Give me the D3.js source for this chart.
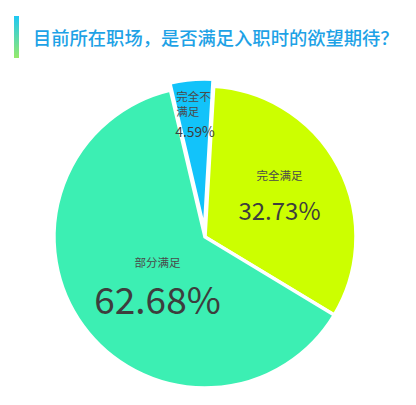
<!DOCTYPE html>
<html>
<head>
<meta charset="utf-8">
<script src="https://cdn.jsdelivr.net/npm/d3@7"></script>
<style>
  html, body { margin: 0; padding: 0; background: #fff; }
  svg { display: block; font-family: "Noto Sans CJK SC", "Noto Sans", sans-serif; }
</style>
</head>
<body>
<svg id="chart" width="416" height="405"></svg>
<script>
const title = "目前所在职场，是否满足入职时的欲望期待？";
const categories = ["完全满足", "部分满足", "完全不满足"];
const nameLines = [["完全满足"], ["部分满足"], ["完全不", "满足"]];
const values = [32.73, 62.68, 4.59];
const valueLabels = ["32.73%", "62.68%", "4.59%"];
const colors = ["#ccff00", "#3cefb3", "#12c3fa"];

const W = 416, H = 405;
const cx = 205, cy = 237, R = 151;
const svg = d3.select("#chart");

// title bar
const defs = svg.append("defs");
const grad = defs.append("linearGradient").attr("id", "bar").attr("x1", 0).attr("y1", 0).attr("x2", 0).attr("y2", 1);
grad.append("stop").attr("offset", "0%").attr("stop-color", "#1ec8f5");
grad.append("stop").attr("offset", "100%").attr("stop-color", "#96ea6a");
svg.append("rect").attr("x", 14).attr("y", 16).attr("width", 5).attr("height", 42).attr("fill", "url(#bar)");
svg.append("text").attr("x", 33).attr("y", 37).attr("dominant-baseline", "central")
  .attr("font-size", 18.3).attr("font-weight", 500).attr("fill", "#1ea2e6").text(title);

const start = 3.3 * Math.PI / 180;
const pie = d3.pie().sort(null).startAngle(start).endAngle(start + 2 * Math.PI);
const arcs = pie(values);
const arc = d3.arc().innerRadius(0).outerRadius(R);
const explode = [0, 0, 7];

const g = svg.append("g").attr("transform", `translate(${cx},${cy})`);
g.selectAll("path").data(arcs).join("path")
  .attr("d", arc)
  .attr("fill", (d, i) => colors[i])
  .attr("stroke", "#fff").attr("stroke-width", 3.5).attr("stroke-linejoin", "miter")
  .attr("transform", (d, i) => {
    const a = (d.startAngle + d.endAngle) / 2;
    return `translate(${explode[i] * Math.sin(a)},${-explode[i] * Math.cos(a)})`;
  });

// labels
const labelK = [0.58, 0.43, 0.82];
const nudge = [[-3, -4], [5, 5], [-2, 0]];
arcs.forEach((d, i) => {
  const la = d3.arc().innerRadius(R * labelK[i]).outerRadius(R * labelK[i]);
  const c = la.centroid(d);
  const x = c[0] + nudge[i][0], y = c[1] + nudge[i][1];
  const lg = g.append("g").attr("fill", "#3d3d3d");
  if (i === 0) {
    lg.append("text").attr("x", x).attr("y", y - 17).attr("text-anchor", "middle").attr("dominant-baseline", "central")
      .attr("font-size", 11.5).attr("fill", "#4a4a4a").text(nameLines[i][0]);
    lg.append("text").attr("x", x).attr("y", y + 17).attr("text-anchor", "middle").attr("dominant-baseline", "central")
      .attr("font-size", 24).text(valueLabels[i]);
  } else if (i === 1) {
    lg.append("text").attr("x", x).attr("y", y - 18).attr("text-anchor", "middle").attr("dominant-baseline", "central")
      .attr("font-size", 11.5).attr("fill", "#4a4a4a").text(nameLines[i][0]);
    lg.append("text").attr("x", x).attr("y", y + 18).attr("text-anchor", "middle").attr("dominant-baseline", "central")
      .attr("font-size", 37).text(valueLabels[i]);
  } else {
    const lx = x - 16;
    nameLines[i].forEach((t, j) => {
      lg.append("text").attr("x", lx).attr("y", y - 18 + j * 15).attr("dominant-baseline", "central")
        .attr("font-size", 11.5).attr("fill", "#4a4a4a").text(t);
    });
    lg.append("text").attr("x", lx - 1).attr("y", y + 17).attr("dominant-baseline", "central")
      .attr("font-size", 13.8).text(valueLabels[i]);
  }
});
</script>
</body>
</html>
